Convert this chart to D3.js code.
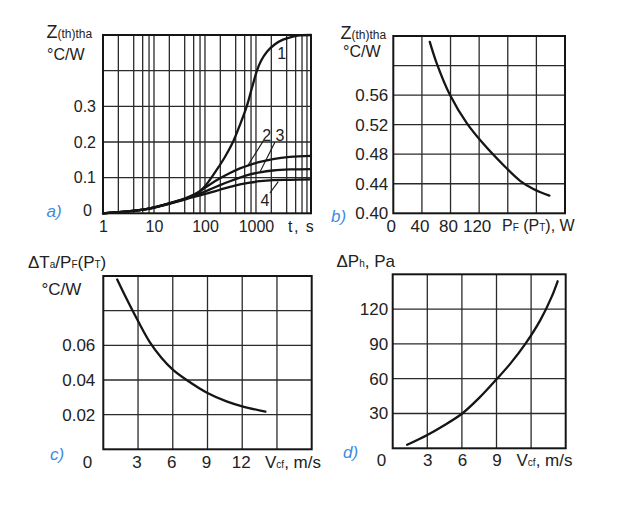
<!DOCTYPE html>
<html>
<head>
<meta charset="utf-8">
<script src="https://cdn.jsdelivr.net/npm/d3@7"></script>
<style>
  html, body { margin: 0; padding: 0; background: #fff; }
  svg { display: block; font-family: "Liberation Sans", Arial, sans-serif; }
</style>
</head>
<body>
<svg id="chart" width="622" height="509"></svg>
<script>
// ---------- data ----------
// panel a) transient thermal impedance vs time (log)
const aT1 = [1, 3.38, 8.35, 20.6, 37, 63.7, 91.4, 125, 172, 246, 354, 485, 666, 835, 1046, 1253, 1643, 2358, 3382, 5081, 7290, 12000];
const aZ1 = [0, 0.006, 0.014, 0.028, 0.039, 0.052, 0.07, 0.094, 0.123, 0.158, 0.2, 0.248, 0.302, 0.352, 0.4, 0.427, 0.453, 0.474, 0.487, 0.495, 0.499, 0.5];
const aT  = [1, 3.38, 8.35, 20.6, 37, 51, 80, 125, 197, 309, 485, 763, 1198, 2154, 4640, 12000];
const aZ2 = [0, 0.006, 0.014, 0.029, 0.04, 0.048, 0.062, 0.081, 0.098, 0.113, 0.126, 0.136, 0.144, 0.152, 0.158, 0.161];
const aZ3 = [0, 0.006, 0.014, 0.028, 0.038, 0.045, 0.055, 0.067, 0.079, 0.09, 0.1, 0.109, 0.115, 0.12, 0.123, 0.124];
const aZ4 = [0, 0.006, 0.013, 0.027, 0.037, 0.043, 0.05, 0.058, 0.066, 0.074, 0.081, 0.086, 0.09, 0.093, 0.094, 0.095];
const aXTicks = [1, 10, 100, 1000];
const aYTicks = [0.1, 0.2, 0.3];
const aCurveLabels = ["1", "2", "3", "4"];

// panel b) Z vs power
const bP = [51, 60.7, 79.3, 102.7, 125.9, 156.2, 177.2, 195.8, 218.2];
const bZ = [0.632, 0.603, 0.56, 0.522, 0.494, 0.463, 0.444, 0.433, 0.424];
const bXTicks = [0, 40, 80, 120];
const bYTicks = [0.40, 0.44, 0.48, 0.52, 0.56];

// panel c) dTa/PF vs air speed
const cV = [1.2, 2.0, 3.0, 4.0, 5.0, 6.0, 7.2, 9.0, 10.7, 12.0, 14.0];
const cR = [0.098, 0.087, 0.074, 0.062, 0.053, 0.046, 0.040, 0.0325, 0.0275, 0.0248, 0.0217];
const cXTicks = [3, 6, 9, 12];
const cYTicks = [0.02, 0.04, 0.06];

// panel d) pressure drop vs air speed
const dV = [1.25, 3.0, 4.4, 6.0, 7.5, 9.0, 10.2, 11.5, 12.8, 13.8, 14.3];
const dP = [3, 11.5, 19.5, 29.8, 43.5, 59.5, 73, 90, 110.5, 131, 144];
const dXTicks = [3, 6, 9];
const dYTicks = [30, 60, 90, 120];

// ---------- drawing ----------
const svg = d3.select("#chart");
const BLUE = "#3b8de0";
const INK = "#151515";
const GRID = "#2a2a2a";
const TXT = "#222";

function panel(o) {
  const g = svg.append("g");
  const x = o.x, y = o.y;
  const [x0, x1] = x.range(), [y0, y1] = y.range();
  g.selectAll(".vg").data(o.xGrid).join("line")
    .attr("x1", d => x(d)).attr("x2", d => x(d))
    .attr("y1", y0).attr("y2", y1)
    .attr("stroke", GRID).attr("stroke-width", 1.3);
  g.selectAll(".hg").data(o.yGrid).join("line")
    .attr("x1", x0).attr("x2", x1)
    .attr("y1", d => y(d)).attr("y2", d => y(d))
    .attr("stroke", GRID).attr("stroke-width", 1.3);
  g.append("rect").attr("x", x0).attr("y", y1)
    .attr("width", x1 - x0).attr("height", y0 - y1)
    .attr("fill", "none").attr("stroke", INK).attr("stroke-width", 2);
  const ax = g.append("g").attr("transform", `translate(0,${y0})`)
    .call(d3.axisBottom(x).tickValues(o.xTicks).tickSize(0).tickPadding(o.xPad).tickFormat(o.xFmt));
  const ay = g.append("g").attr("transform", `translate(${x0},0)`)
    .call(d3.axisLeft(y).tickValues(o.yTicks).tickSize(0).tickPadding(o.yPad).tickFormat(o.yFmt));
  [ax, ay].forEach(a => {
    a.select(".domain").remove();
    a.selectAll("text").attr("font-size", o.fs).attr("fill", TXT)
      .attr("font-family", '"Liberation Sans", Arial, sans-serif');
  });
  if (o.xDx) ax.selectAll("text").attr("dx", o.xDx);
  const line = d3.line().x(d => x(d[0])).y(d => y(d[1])).curve(d3.curveCatmullRom.alpha(0.5));
  o.series.forEach(s => {
    g.append("path").datum(d3.zip(s[0], s[1])).attr("d", line)
      .attr("fill", "none").attr("stroke", INK).attr("stroke-width", 2.3)
      .attr("stroke-linejoin", "round").attr("stroke-linecap", "round");
  });
  return g;
}

function richText(g, xPos, yPos, parts) {
  const t = g.append("text").attr("x", xPos).attr("y", yPos).attr("fill", TXT);
  parts.forEach(p => t.append("tspan").attr("font-size", p[1]).text(p[0]));
  return t;
}
function plain(g, txt, xPos, yPos, fs, anchor) {
  return g.append("text").attr("x", xPos).attr("y", yPos).attr("font-size", fs)
    .attr("fill", TXT).attr("text-anchor", anchor || "start").text(txt);
}
function letter(txt, xPos, yPos) {
  svg.append("text").attr("x", xPos).attr("y", yPos).text(txt)
    .attr("fill", BLUE).attr("font-style", "italic").attr("font-size", 17);
}

// ----- panel a -----
const xa = d3.scaleLog().domain([1, 12000]).range([103, 311]);
const ya = d3.scaleLinear().domain([0, 0.5]).range([213.3, 35]);
const aGrid = [];
[1, 10, 100, 1000].forEach(dec => [2, 4, 6, 8, 10].forEach(m => aGrid.push(dec * m)));
const ga = panel({
  x: xa, y: ya, xGrid: aGrid, yGrid: [0.1, 0.2, 0.3, 0.4],
  xTicks: aXTicks, yTicks: aYTicks, xFmt: d3.format("d"), yFmt: d3.format(".1f"),
  xPad: 7, yPad: 7, fs: 16,
  series: [[aT1, aZ1], [aT, aZ2], [aT, aZ3], [aT, aZ4]]
});
plain(ga, "0", 87.5, 216, 16, "middle");
plain(ga, "t, s", 288, 231.5, 16).attr("letter-spacing", 1.5);
richText(ga, 46.5, 37.5, [["Z", 18], ["(th)tha", 12]]);
plain(ga, "°C/W", 47, 60, 16);
letter("a)", 46.5, 217);
const aLab = [[3200, 0.45], [1620, 0.22], [2950, 0.22], [1500, 0.037]];
ga.selectAll(".cl").data(aCurveLabels).join("text")
  .attr("x", (d, i) => xa(aLab[i][0])).attr("y", (d, i) => ya(aLab[i][1]))
  .attr("dy", "0.36em").attr("text-anchor", "middle").attr("font-size", 16).attr("fill", TXT)
  .text(d => d);
const aLead = [[[1390, 0.203], [706, 0.136]], [[2360, 0.2], [1198, 0.116]], [[1880, 0.057], [2735, 0.089]]];
ga.selectAll(".ld").data(aLead).join("line")
  .attr("x1", d => xa(d[0][0])).attr("y1", d => ya(d[0][1]))
  .attr("x2", d => xa(d[1][0])).attr("y2", d => ya(d[1][1]))
  .attr("stroke", INK).attr("stroke-width", 1.1);

// ----- panel b -----
const xb = d3.scaleLinear().domain([0, 240]).range([393.3, 565]);
const yb = d3.scaleLinear().domain([0.40, 0.64]).range([213.3, 36]);
const gb = panel({
  x: xb, y: yb, xGrid: [40, 80, 120, 160, 200], yGrid: [0.44, 0.48, 0.52, 0.56, 0.60],
  xTicks: bXTicks, yTicks: bYTicks, xFmt: d3.format("d"), yFmt: d3.format(".2f"),
  xPad: 7, yPad: 5, fs: 17, xDx: -2.5,
  series: [[bP, bZ]]
});
richText(gb, 502, 231, [["P", 16], ["F", 10], [" (P", 16], ["T", 10], ["), W", 16]]);
richText(gb, 340.5, 38.5, [["Z", 18], ["(th)tha", 12]]);
plain(gb, "°C/W", 343, 57, 16);
letter("b)", 331, 222);

// ----- panel c -----
const xc = d3.scaleLinear().domain([0, 18]).range([103.3, 311.7]);
const yc = d3.scaleLinear().domain([0, 0.10]).range([449.3, 276]);
const gc = panel({
  x: xc, y: yc, xGrid: [3, 6, 9, 12, 15], yGrid: [0.02, 0.04, 0.06, 0.08],
  xTicks: cXTicks, yTicks: cYTicks, xFmt: d3.format("d"), yFmt: d3.format(".2f"),
  xPad: 7, yPad: 8, fs: 17, xDx: -1.5,
  series: [[cV, cR]]
});
plain(gc, "0", 87.5, 468, 17, "middle");
richText(gc, 265, 468, [["V", 17], ["cf", 10], [", m/s", 17]]);
richText(gc, 28, 268, [["ΔT", 17], ["a", 10], ["/P", 17], ["F", 10], ["(P", 17], ["T", 10], [")", 17]]);
plain(gc, "°C/W", 41.5, 295, 17);
letter("c)", 50, 460);

// ----- panel d -----
const xd = d3.scaleLinear().domain([0, 15]).range([392.7, 565.7]);
const yd = d3.scaleLinear().domain([0, 150]).range([448.3, 274.3]);
const gd = panel({
  x: xd, y: yd, xGrid: [3, 6, 9, 12], yGrid: [30, 60, 90, 120],
  xTicks: dXTicks, yTicks: dYTicks, xFmt: d3.format("d"), yFmt: d3.format("d"),
  xPad: 6, yPad: 4.5, fs: 17,
  series: [[dV, dP]]
});
plain(gd, "0", 381.5, 466, 17, "middle");
richText(gd, 516.5, 466, [["V", 17], ["cf", 10], [", m/s", 17]]);
richText(gd, 336.5, 267, [["ΔP", 17], ["h", 10], [", Pa", 17]]);
letter("d)", 343, 458);
</script>
</body>
</html>
